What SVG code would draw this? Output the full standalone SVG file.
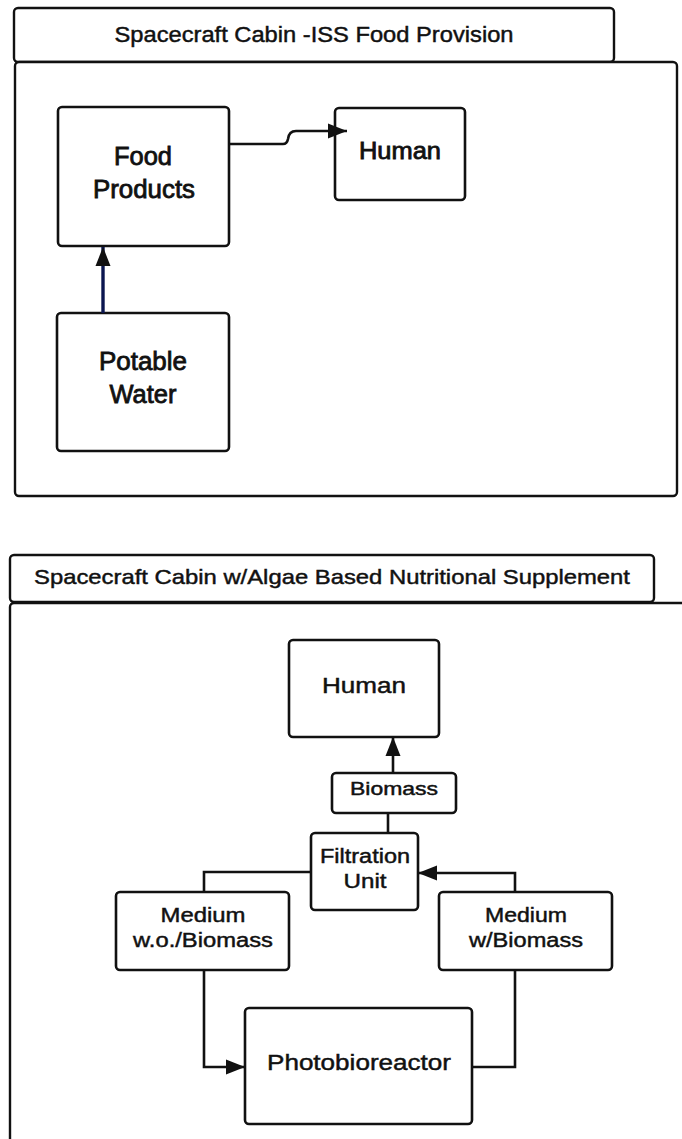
<svg xmlns="http://www.w3.org/2000/svg" width="682" height="1139" viewBox="0 0 682 1139">
<defs>
<style>
.box{fill:#fff;stroke:#111;stroke-width:2.6}
.frame{fill:#fff;stroke:#111;stroke-width:2.4}
.t{font-family:"Liberation Sans",Arial,sans-serif;fill:#111;stroke:#111;stroke-width:0.45;text-anchor:middle}
.b{stroke-width:0.8}
.conn{fill:none;stroke:#111;stroke-width:2.6}
</style>
<marker id="ah" markerUnits="userSpaceOnUse" markerWidth="22" markerHeight="18" refX="19" refY="9" orient="auto">
<path d="M0,1.5 L19,9 L0,16.5 Z" fill="#111"/>
</marker>
</defs>
<rect width="682" height="1139" fill="#fff"/>

<g id="section1">
<rect class="frame" x="14" y="8" width="600" height="54" rx="4"/>
<text class="t" x="314" y="42" font-size="22" textLength="399" lengthAdjust="spacingAndGlyphs">Spacecraft Cabin -ISS Food Provision</text>
<rect class="frame" x="15" y="62" width="662" height="434" rx="4"/>
</g>

<g id="food-products">
<rect class="box" x="58" y="107" width="171" height="139" rx="4"/>
<text class="t b" x="143" y="165" font-size="25" textLength="58" lengthAdjust="spacingAndGlyphs">Food</text>
<text class="t b" x="144" y="198" font-size="25" textLength="102" lengthAdjust="spacingAndGlyphs">Products</text>
</g>

<g id="human1">
<rect class="box" x="335" y="108" width="130" height="92" rx="4"/>
<text class="t b" x="400" y="159" font-size="23" textLength="82" lengthAdjust="spacingAndGlyphs">Human</text>
</g>

<g id="potable-water">
<rect class="box" x="57" y="313" width="172" height="138" rx="4"/>
<text class="t b" x="143" y="370" font-size="25" textLength="88" lengthAdjust="spacingAndGlyphs">Potable</text>
<text class="t b" x="143" y="403" font-size="25" textLength="67" lengthAdjust="spacingAndGlyphs">Water</text>
</g>

<g id="section2">
<rect class="frame" x="10" y="555" width="644" height="47" rx="4"/>
<text class="t" x="332" y="584" font-size="21" textLength="596" lengthAdjust="spacingAndGlyphs">Spacecraft Cabin w/Algae Based Nutritional Supplement</text>
<rect class="frame" x="10" y="603" width="700" height="600" rx="4"/>
</g>

<g id="human2">
<rect class="box" x="289" y="640" width="150" height="97" rx="4"/>
<text class="t" x="364" y="693" font-size="22" textLength="84" lengthAdjust="spacingAndGlyphs">Human</text>
</g>

<g id="biomass">
<rect class="box" x="332" y="773" width="124" height="40" rx="4"/>
<text class="t" x="394" y="795" font-size="18" textLength="88" lengthAdjust="spacingAndGlyphs">Biomass</text>
</g>

<g id="filtration-unit">
<rect class="box" x="311" y="833" width="107" height="77" rx="4"/>
<text class="t" x="365" y="863" font-size="20" textLength="90" lengthAdjust="spacingAndGlyphs">Filtration</text>
<text class="t" x="365" y="888" font-size="20" textLength="43" lengthAdjust="spacingAndGlyphs">Unit</text>
</g>

<g id="medium-wo-biomass">
<rect class="box" x="116" y="892" width="173" height="78" rx="4"/>
<text class="t" x="203" y="922" font-size="20" textLength="85" lengthAdjust="spacingAndGlyphs">Medium</text>
<text class="t" x="203" y="947" font-size="20" textLength="140" lengthAdjust="spacingAndGlyphs">w.o./Biomass</text>
</g>

<g id="medium-w-biomass">
<rect class="box" x="439" y="892" width="173" height="78" rx="4"/>
<text class="t" x="526" y="922" font-size="20" textLength="82" lengthAdjust="spacingAndGlyphs">Medium</text>
<text class="t" x="526" y="947" font-size="20" textLength="114" lengthAdjust="spacingAndGlyphs">w/Biomass</text>
</g>

<g id="photobioreactor">
<rect class="box" x="245" y="1008" width="227" height="116" rx="4"/>
<text class="t" x="359" y="1070" font-size="22" textLength="184" lengthAdjust="spacingAndGlyphs">Photobioreactor</text>
</g>

<g id="connectors">
<path class="conn" d="M229,144 L283,144 Q287,144 288,139 Q289,131 296,131 L347,131" marker-end="url(#ah)"/>
<path class="conn" d="M103,313 L103,247" marker-end="url(#ah)" style="stroke:#0b1650;stroke-width:3.4"/>
<path class="conn" d="M393,773 L393,737" marker-end="url(#ah)"/>
<path class="conn" d="M388,813 L388,833"/>
<path class="conn" d="M311,872 L204,872 L204,892"/>
<path class="conn" d="M204,970 L204,1067 L245,1067" marker-end="url(#ah)"/>
<path class="conn" d="M472,1067 L515,1067 L515,970"/>
<path class="conn" d="M515,892 L515,873 L418,873" marker-end="url(#ah)"/>
</g>
</svg>
